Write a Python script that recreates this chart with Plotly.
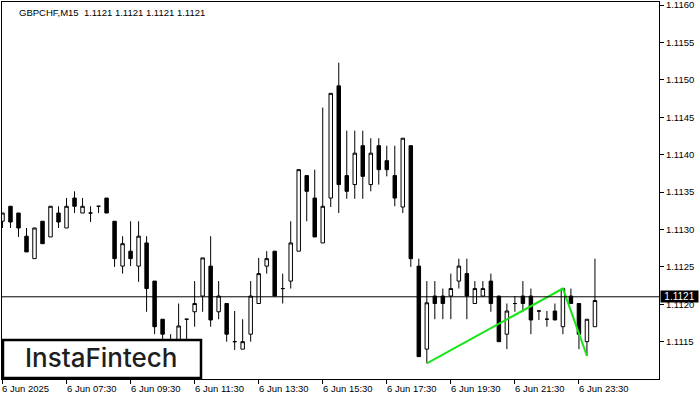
import plotly.graph_objects as go

# ---------------- data ----------------
bar_index = list(range(75))

opens = [1.11311, 1.11331, 1.11322, 1.11291, 1.11261, 1.11311, 1.11290, 1.11322, 1.11302, 1.11342,
         1.11322, 1.11322, 1.11331, 1.11342, 1.11311, 1.11251, 1.11271, 1.11251, 1.11282, 1.11231,
         1.11180, 1.11150, 1.11145, 1.11180, 1.11190, 1.11211, 1.11251, 1.11190, 1.11201, 1.11150,
         1.11140, 1.11160, 1.11201, 1.11251, 1.11271, 1.11221, 1.11231, 1.11271, 1.11372, 1.11342,
         1.11282, 1.11342, 1.11492, 1.11372, 1.11360, 1.11412, 1.11360, 1.11412, 1.11392, 1.11372,
         1.11330, 1.11412, 1.11251, 1.11140, 1.11211, 1.11211, 1.11211, 1.11231, 1.11241, 1.11201,
         1.11211, 1.11231, 1.11211, 1.11160, 1.11201, 1.11211, 1.11211, 1.11191, 1.11180, 1.11191,
         1.11170, 1.11211, 1.11201, 1.11150, 1.11170]

highs = [1.11322, 1.11331, 1.11322, 1.11302, 1.11302, 1.11311, 1.11331, 1.11331, 1.11342, 1.11351,
         1.11342, 1.11331, 1.11331, 1.11342, 1.11311, 1.11291, 1.11311, 1.11311, 1.11291, 1.11231,
         1.11180, 1.11160, 1.11201, 1.11180, 1.11231, 1.11262, 1.11291, 1.11231, 1.11201, 1.11191,
         1.11180, 1.11231, 1.11262, 1.11271, 1.11271, 1.11241, 1.11311, 1.11380, 1.11372, 1.11380,
         1.11463, 1.11482, 1.11523, 1.11432, 1.11432, 1.11432, 1.11422, 1.11422, 1.11412, 1.11412,
         1.11422, 1.11412, 1.11261, 1.11231, 1.11231, 1.11221, 1.11241, 1.11261, 1.11261, 1.11231,
         1.11231, 1.11241, 1.11211, 1.11201, 1.11211, 1.11231, 1.11221, 1.11191, 1.11191, 1.11201,
         1.11221, 1.11221, 1.11201, 1.11180, 1.11261]

lows = [1.11302, 1.11302, 1.11290, 1.11270, 1.11261, 1.11281, 1.11290, 1.11302, 1.11302, 1.11322,
        1.11322, 1.11310, 1.11322, 1.11322, 1.11250, 1.11241, 1.11251, 1.11230, 1.11190, 1.11160,
        1.11150, 1.11130, 1.11140, 1.11150, 1.11170, 1.11190, 1.11170, 1.11180, 1.11150, 1.11139,
        1.11140, 1.11150, 1.11201, 1.11241, 1.11211, 1.11201, 1.11221, 1.11271, 1.11311, 1.11290,
        1.11282, 1.11330, 1.11322, 1.11341, 1.11341, 1.11341, 1.11351, 1.11360, 1.11371, 1.11331,
        1.11322, 1.11250, 1.11130, 1.11121, 1.11180, 1.11180, 1.11180, 1.11221, 1.11180, 1.11201,
        1.11211, 1.11190, 1.11150, 1.11140, 1.11190, 1.11190, 1.11160, 1.11179, 1.11170, 1.11179,
        1.11160, 1.11201, 1.11140, 1.11131, 1.11170]

closes = [1.11322, 1.11310, 1.11302, 1.11270, 1.11302, 1.11281, 1.11331, 1.11310, 1.11331, 1.11331,
          1.11331, 1.11322, 1.11331, 1.11322, 1.11261, 1.11281, 1.11261, 1.11291, 1.11221, 1.11170,
          1.11160, 1.11140, 1.11171, 1.11180, 1.11201, 1.11262, 1.11179, 1.11211, 1.11160, 1.11150,
          1.11150, 1.11211, 1.11241, 1.11261, 1.11211, 1.11221, 1.11282, 1.11380, 1.11351, 1.11290,
          1.11331, 1.11482, 1.11360, 1.11351, 1.11402, 1.11371, 1.11402, 1.11380, 1.11380, 1.11342,
          1.11422, 1.11261, 1.11130, 1.11202, 1.11201, 1.11201, 1.11221, 1.11251, 1.11211, 1.11221,
          1.11221, 1.11201, 1.11150, 1.11191, 1.11201, 1.11201, 1.11179, 1.11191, 1.11180, 1.11179,
          1.11221, 1.11201, 1.11160, 1.11180, 1.11205]

tick_index = [0, 8, 16, 24, 32, 40, 48, 56, 64, 72]
tick_labels = ["6 Jun 2025", "6 Jun 07:30", "6 Jun 09:30", "6 Jun 11:30", "6 Jun 13:30",
               "6 Jun 15:30", "6 Jun 17:30", "6 Jun 19:30", "6 Jun 21:30", "6 Jun 23:30"]

price_ticks = [1.1115, 1.1120, 1.1125, 1.1130, 1.1135, 1.1140, 1.1145, 1.1150, 1.1155, 1.1160]
price_tick_labels = ["1.1115", "1.1120", "1.1125", "1.1130", "1.1135",
                     "1.1140", "1.1145", "1.1150", "1.1155", "1.1160"]

current_price = 1.1121
current_price_label = "1.1121"
header_text = "GBPCHF,M15\u00a0 1.1121 1.1121 1.1121 1.1121"

pattern_index = [53, 70, 73]
pattern_price = [lows[53], highs[70], lows[73]]

logo_text = "InstaFintech"

# ---------------- figure ----------------
FONT = "Liberation Sans, Arial, sans-serif"
FS = 9.5

fig = go.Figure()

fig.add_trace(go.Candlestick(
    x=bar_index, open=opens, high=highs, low=lows, close=closes,
    increasing=dict(line=dict(color="black", width=1), fillcolor="white"),
    decreasing=dict(line=dict(color="black", width=1), fillcolor="black"),
    whiskerwidth=0, showlegend=False, hoverinfo="skip",
))

fig.add_trace(go.Scatter(
    x=pattern_index, y=pattern_price, mode="lines",
    line=dict(color="#19e619", width=2), showlegend=False, hoverinfo="skip",
))

annotations = []
for ti, tt in zip(tick_index, tick_labels):
    annotations.append(dict(
        x=ti, xref="x", y=0, yref="paper", yanchor="top", yshift=-2,
        xanchor="left", xshift=-2, text=tt, showarrow=False,
        font=dict(family=FONT, size=FS, color="black"),
    ))

annotations.append(dict(
    x=0, xref="paper", xanchor="left", xshift=15,
    y=1, yref="paper", yanchor="top", yshift=-3,
    text=header_text, showarrow=False,
    font=dict(family=FONT, size=FS, color="black"),
))

annotations.append(dict(
    x=1, xref="paper", xanchor="left", xshift=1,
    y=current_price, yref="y", yanchor="middle",
    text=current_price_label, showarrow=False, bgcolor="black",
    borderpad=0, width=37, align="center",
    font=dict(family=FONT, size=FS + 0.5, color="white"),
))

annotations.append(dict(
    x=0.152, xref="paper", xanchor="center",
    y=0.056, yref="paper", yanchor="middle",
    text=logo_text, showarrow=False,
    font=dict(family="Inter, Lato, sans-serif", size=26, color="#1e1e1e", weight=500),
))

shapes = [
    dict(type="line", xref="paper", x0=0, x1=1, yref="y", y0=current_price, y1=current_price,
         line=dict(color="black", width=1), layer="above"),
    dict(type="rect", xref="paper", x0=0.0015, x1=0.3029, yref="paper", y0=0.0027, y1=0.1034,
         line=dict(color="black", width=2.5), fillcolor="white", layer="above"),
]

fig.update_layout(
    width=700, height=400,
    margin=dict(l=2, r=41, t=2, b=21, pad=0),
    paper_bgcolor="white", plot_bgcolor="white",
    boxgap=0.38,
    showlegend=False,
    annotations=annotations,
    shapes=shapes,
    xaxis=dict(
        range=[-0.06, 82.0], showgrid=False, zeroline=False,
        showline=True, mirror=True, linecolor="black", linewidth=1,
        ticks="outside", ticklen=4, tickcolor="black", tickwidth=1,
        tickvals=tick_index, showticklabels=False,
        rangeslider=dict(visible=False), fixedrange=True,
    ),
    yaxis=dict(
        side="right", range=[1.111001, 1.116041],
        showgrid=False, zeroline=False,
        showline=True, mirror=True, linecolor="black", linewidth=1,
        ticks="outside", ticklen=4, tickcolor="black", tickwidth=1,
        tickvals=price_ticks, ticktext=price_tick_labels,
        tickfont=dict(family=FONT, size=FS, color="black"),
        ticklabeloverflow="allow",
        fixedrange=True, automargin=False,
    ),
)

fig.write_html(
    "out.html",
    config={"displayModeBar": False},
    post_script="document.body.style.margin='0';document.body.style.overflow='hidden';",
)
